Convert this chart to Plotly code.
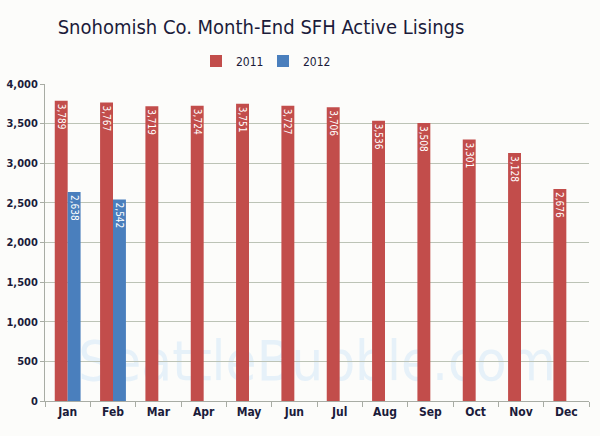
import plotly.graph_objects as go

months = ["Jan", "Feb", "Mar", "Apr", "May", "Jun", "Jul", "Aug", "Sep", "Oct", "Nov", "Dec"]
y2011 = [3789, 3767, 3719, 3724, 3751, 3727, 3706, 3536, 3508, 3301, 3128, 2676]
y2012 = [2638, 2542, None, None, None, None, None, None, None, None, None, None]

FONT = "DejaVu Sans Condensed, Roboto, sans-serif"
RED = "#c24d4b"
BLUE = "#4a7fbd"
INK = "#1b1b3a"

def labels(vals):
    return [f"{v:,}" if v is not None else "" for v in vals]

fig = go.Figure()
for name, vals, col in (("2011", y2011, RED), ("2012", y2012, BLUE)):
    fig.add_trace(go.Bar(
        x=months, y=vals, name=name, marker=dict(color=col, line=dict(width=0)),
        text=labels(vals), textposition="inside", textangle=90, insidetextanchor="end",
        constraintext="none",
        textfont=dict(family=FONT, size=10, color="white"), cliponaxis=False,
    ))

fig.update_layout(
    width=600, height=436,
    margin=dict(l=45, r=11, t=84, b=35),
    paper_bgcolor="#fcfcfa", plot_bgcolor="#fcfcfa",
    barmode="group", bargap=0.43, bargroupgap=0,
    title=dict(text="Snohomish Co. Month-End SFH Active Lisings",
               x=261 / 600, xanchor="center", y=1 - 27 / 436, yanchor="middle",
               font=dict(family=FONT, size=20, color=INK)),
    legend=dict(orientation="h", x=263 / 600, xref="container", xanchor="center",
                y=1 - 61 / 436, yanchor="middle", yref="container",
                font=dict(family=FONT, size=12, color=INK),
                itemwidth=30, entrywidth=22, traceorder="normal", bgcolor="rgba(0,0,0,0)"),
    showlegend=True,
    font=dict(family=FONT),
)
fig.update_xaxes(
    type="category", showgrid=False, showline=True, linecolor="#a8aca4", linewidth=1,
    ticks="outside", tickson="boundaries", ticklen=5, tickcolor="#a8aca4",
    tickfont=dict(family=FONT, size=12, color=INK, weight="bold"), automargin=False,
)
fig.update_yaxes(
    range=[0, 4000], dtick=500, tickformat=",d", showgrid=True, gridcolor="#bcc3b6", gridwidth=1,
    showline=True, linecolor="#a8aca4", linewidth=1, ticks="outside", ticklen=4, tickcolor="#a8aca4",
    tickfont=dict(family=FONT, size=11, color=INK, weight="bold"), zeroline=False, automargin=False,
)
fig.add_shape(
    type="rect", xref="paper", yref="paper", x0=0.04, x1=0.96, y0=0.04, y1=0.24,
    line=dict(width=0), fillcolor="rgba(0,0,0,0)", layer="below",
    label=dict(text="SeattleBubble.com", font=dict(family=FONT, size=56,
               color="#e6f1f9"), textposition="middle center"),
)

fig.write_html("out.html", config={"displayModeBar": False},
               post_script="document.body.style.margin='0';")
